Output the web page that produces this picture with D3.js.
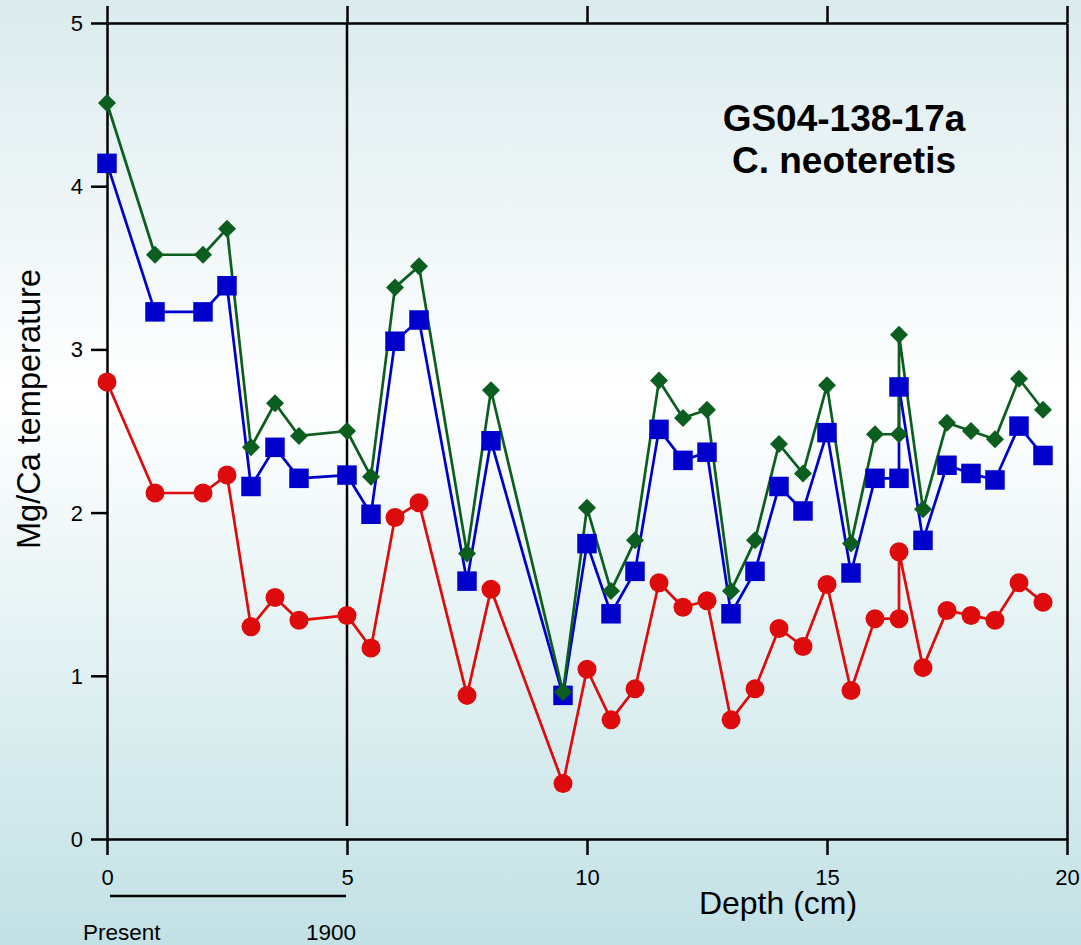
<!DOCTYPE html>
<html>
<head>
<meta charset="utf-8">
<script src="https://cdn.jsdelivr.net/npm/d3@7"></script>
<style>
  html, body { margin: 0; padding: 0; }
  body { width: 1081px; height: 945px; overflow: hidden; }
  svg { display: block; font-family: "Liberation Sans", Arial, Helvetica, sans-serif; }
</style>
</head>
<body>
<svg id="chart" width="1081" height="945"></svg>
<script>
// ---- Data ----
const depth = [0,1,2,2.5,3,3.5,4,5,5.5,6,6.5,7.5,8,9.5,10,10.5,11,11.5,12,12.5,13,13.5,14,14.5,15,15.5,16,16.5,16.5,17,17.5,18,18.5,19,19.5];
const greenSeries = [4.51,3.58,3.58,3.74,2.40,2.67,2.47,2.50,2.22,3.38,3.51,1.75,2.75,0.90,2.03,1.52,1.83,2.81,2.58,2.63,1.52,1.83,2.42,2.24,2.78,1.81,2.48,2.48,3.09,2.02,2.55,2.50,2.45,2.82,2.63];
const blueSeries  = [4.14,3.23,3.23,3.39,2.16,2.40,2.21,2.23,1.99,3.05,3.18,1.58,2.44,0.88,1.81,1.38,1.64,2.51,2.32,2.37,1.38,1.64,2.16,2.01,2.49,1.63,2.21,2.21,2.77,1.83,2.29,2.24,2.20,2.53,2.35];
const redSeries   = [2.80,2.12,2.12,2.23,1.30,1.48,1.34,1.37,1.17,1.97,2.06,0.88,1.53,0.34,1.04,0.73,0.92,1.57,1.42,1.46,0.73,0.92,1.29,1.18,1.56,0.91,1.35,1.35,1.76,1.05,1.40,1.37,1.34,1.57,1.45];
const xTicks = [0,5,10,15,20];
const yTicks = [0,1,2,3,4,5];
const titleLines = ["GS04-138-17a", "C. neoteretis"];
const xTitle = "Depth (cm)";
const yTitle = "Mg/Ca temperature";
const ageLabels = [{depth: 0, label: "Present", dx: -24}, {depth: 5, label: "1900", dx: -41}];

// ---- Setup ----
const svg = d3.select("#chart");
const x = d3.scaleLinear().domain([0, 20]).range([107, 1067]);
const y = d3.scaleLinear().domain([0, 5]).range([839, 23]);

// background gradient
const defs = svg.append("defs");
const grad = defs.append("linearGradient").attr("id", "bg").attr("x1", 0).attr("y1", 0).attr("x2", 0).attr("y2", 1);
grad.append("stop").attr("offset", "0%").attr("stop-color", "#dbebee");
grad.append("stop").attr("offset", "42%").attr("stop-color", "#ffffff");
grad.append("stop").attr("offset", "100%").attr("stop-color", "#c2e1e5");
svg.append("rect").attr("width", 1081).attr("height", 945).attr("fill", "url(#bg)");

const axisColor = "#000";
const axisW = 2.5;

function styleAxis(g) {
  g.attr("font-size", 22).attr("font-family", "Liberation Sans, Arial, sans-serif");
  g.selectAll("path.domain").attr("stroke", axisColor).attr("stroke-width", axisW);
  g.selectAll(".tick line").attr("stroke", axisColor).attr("stroke-width", axisW);
  g.selectAll(".tick text").attr("fill", "#000").attr("font-size", 22);
}

// bottom axis
const gx = svg.append("g").attr("transform", `translate(0,${y(0)})`)
  .call(d3.axisBottom(x).tickValues(xTicks).tickSize(16).tickSizeOuter(0).tickFormat(d3.format("d")));
styleAxis(gx);
gx.selectAll(".tick text").attr("y", 46).attr("dy", 0);

// top axis (ticks only)
const gt = svg.append("g").attr("transform", `translate(0,${y(5)})`)
  .call(d3.axisTop(x).tickValues(xTicks).tickSize(17).tickSizeOuter(0).tickFormat(""));
styleAxis(gt);

// left axis
const gy = svg.append("g").attr("transform", `translate(${x(0)},0)`)
  .call(d3.axisLeft(y).tickValues(yTicks).tickSize(16).tickSizeOuter(0).tickFormat(d3.format("d")));
styleAxis(gy);
gy.selectAll(".tick text").attr("x", -24).attr("dy", "0.34em");

// right axis (line only)
const gr = svg.append("g").attr("transform", `translate(${x(20)},0)`)
  .call(d3.axisRight(y).tickValues([]).tickSizeOuter(0));
styleAxis(gr);

// vertical reference line at 5 cm (1900)
svg.append("line")
  .attr("x1", x(5)).attr("x2", x(5))
  .attr("y1", y(5)).attr("y2", y(0.08))
  .attr("stroke", axisColor).attr("stroke-width", axisW);

// ---- Series ----
const series = [
  {name: "red", values: redSeries, color: "#dd0b0b", shape: "circle"},
  {name: "blue", values: blueSeries, color: "#0000cc", shape: "square"},
  {name: "green", values: greenSeries, color: "#0b5e1e", shape: "diamond"}
];

const line = d3.line().x(d => x(d[0])).y(d => y(d[1]));

series.forEach(s => {
  const pts = depth.map((d, i) => [d, s.values[i]]);
  svg.append("path").datum(pts)
    .attr("d", line)
    .attr("fill", "none")
    .attr("stroke", s.color)
    .attr("stroke-width", 2.7)
    .attr("stroke-linejoin", "round");
});

const symbolFor = {
  circle: d3.symbol().type(d3.symbolCircle).size(Math.PI * 9.5 * 9.5),
  square: d3.symbol().type(d3.symbolSquare).size(19.5 * 19.5)
};

series.forEach(s => {
  const pts = depth.map((d, i) => [d, s.values[i]]);
  const g = svg.append("g");
  if (s.shape === "diamond") {
    const h = 9;
    g.selectAll("path").data(pts).join("path")
      .attr("d", `M0,${-h}L${h},0L0,${h}L${-h},0Z`)
      .attr("transform", d => `translate(${x(d[0])},${y(d[1])})`)
      .attr("fill", s.color);
  } else {
    g.selectAll("path").data(pts).join("path")
      .attr("d", symbolFor[s.shape]())
      .attr("transform", d => `translate(${x(d[0])},${y(d[1])})`)
      .attr("fill", s.color);
  }
});

// ---- Title ----
const title = svg.append("text")
  .attr("text-anchor", "middle")
  .attr("font-weight", "bold")
  .attr("font-size", 37)
  .attr("fill", "#000");
titleLines.forEach((t, i) => {
  title.append("tspan").attr("x", 844).attr("y", 131 + i * 42).text(t);
});

// ---- Axis titles ----
svg.append("text")
  .attr("x", 778).attr("y", 914)
  .attr("text-anchor", "middle")
  .attr("font-size", 32)
  .attr("fill", "#000")
  .text(xTitle);

svg.append("text")
  .attr("transform", `translate(40,409) rotate(-90)`)
  .attr("text-anchor", "middle")
  .attr("font-size", 32.5)
  .attr("fill", "#000")
  .text(yTitle);

// ---- Age bar ----
svg.append("line")
  .attr("x1", x(0) + 3).attr("x2", x(5) - 1)
  .attr("y1", 896).attr("y2", 896)
  .attr("stroke", "#000").attr("stroke-width", axisW);

svg.selectAll("text.age").data(ageLabels).join("text")
  .attr("class", "age")
  .attr("x", d => x(d.depth) + d.dx)
  .attr("y", 940)
  .attr("text-anchor", "start")
  .attr("font-size", 22.5)
  .attr("fill", "#000")
  .text(d => d.label);
</script>
</body>
</html>
